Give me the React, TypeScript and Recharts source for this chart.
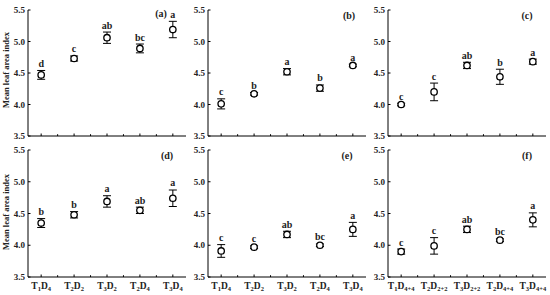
import React from 'react';
import { ScatterChart, Scatter, XAxis, YAxis, ErrorBar, LabelList } from 'recharts';

const FONT = '"Liberation Serif", "Times New Roman", serif';

// treatment subscripts (T_i D_j)
const catsSingle = [['1', '4'], ['2', '2'], ['3', '2'], ['2', '4'], ['3', '4']];
const catsDouble = [['1', '4+4'], ['2', '2+2'], ['3', '2+2'], ['2', '4+4'], ['3', '4+4']];

const meanA = [4.47, 4.73, 5.06, 4.89, 5.19];
const errA = [0.07, 0.04, 0.09, 0.07, 0.13];
const letA = ['d', 'c', 'ab', 'bc', 'a'];

const meanB = [4.01, 4.17, 4.52, 4.26, 4.62];
const errB = [0.08, 0.02, 0.05, 0.05, 0.02];
const letB = ['c', 'b', 'a', 'b', 'a'];

const meanC = [4.0, 4.2, 4.62, 4.44, 4.68];
const errC = [0.02, 0.14, 0.05, 0.12, 0.04];
const letC = ['c', 'c', 'ab', 'b', 'a'];

const meanD = [4.35, 4.48, 4.69, 4.55, 4.74];
const errD = [0.07, 0.05, 0.09, 0.05, 0.13];
const letD = ['b', 'b', 'a', 'ab', 'a'];

const meanE = [3.91, 3.97, 4.17, 4.0, 4.25];
const errE = [0.1, 0.02, 0.05, 0.02, 0.11];
const letE = ['c', 'c', 'ab', 'bc', 'a'];

const meanF = [3.9, 3.99, 4.25, 4.08, 4.4];
const errF = [0.04, 0.13, 0.05, 0.02, 0.11];
const letF = ['c', 'c', 'ab', 'bc', 'a'];

const yTicks = [3.5, 4.0, 4.5, 5.0, 5.5];
const xTicks = [0, 0.5, 1, 1.5, 2, 2.5, 3, 3.5, 4];

const YTick = (props: any) => {
    const { x, y, payload } = props;
    const ax = x + 3; // axis line position (tickSize 0, tickMargin 3)
    return (
        <g>
            <line x1={ax} x2={ax + 2.5} y1={y} y2={y} stroke="#000" strokeWidth={1} />
            <text x={x} y={y} dy="0.35em" textAnchor="end" fontFamily={FONT} fontWeight="bold" fontSize={9} fill="#222">
                {payload.value.toFixed(1)}
            </text>
        </g>
    );
};

const XTick = (props: any) => {
    const { x, y, payload, cats, showLabels } = props;
    const v = payload.value;
    const major = Number.isInteger(v);
    const ay = y - 3;
    const sub = major ? cats[v] : null;
    return (
        <g>
            <line x1={x} x2={x} y1={ay} y2={ay - (major ? 2.5 : 1.8)} stroke="#000" strokeWidth={1} />
            {showLabels && sub && (
                <text x={x} y={y + 9} textAnchor="middle" fontFamily={FONT} fontWeight="bold" fontSize={9.5} fill="#222">
                    T<tspan fontSize={6.5} dy={2}>{sub[0]}</tspan>
                    <tspan dy={-2}>D</tspan>
                    <tspan fontSize={6.5} dy={2}>{sub[1]}</tspan>
                </text>
            )}
        </g>
    );
};

interface PanelProps {
    means: number[];
    errs: number[];
    letters: string[];
    cats: string[][];
    left: number;
    top: number;
    bottomRow: boolean;
}

const Panel: React.FC<PanelProps> = ({ means, errs, letters, cats, left, top, bottomRow }) => {
    const pts = means.map((m, i) => ({ x: i, y: m, err: errs[i] }));
    const tops = means.map((m, i) => ({ x: i, y: m + errs[i], letter: letters[i] }));
    return (
        <div style={{ position: 'absolute', left, top }}>
            <ScatterChart
                width={190}
                height={150}
                margin={{ top: bottomRow ? 5 : 10, right: 4, bottom: 0, left: 0 }}
            >
                <XAxis
                    type="number"
                    dataKey="x"
                    domain={[-0.4, 4.4]}
                    ticks={xTicks}
                    interval={0}
                    height={bottomRow ? 18 : 14}
                    tickSize={0}
                    tickMargin={3}
                    stroke="#000"
                    axisLine={{ stroke: '#000', strokeWidth: 1 }}
                    tick={<XTick cats={cats} showLabels={bottomRow} />}
                />
                <YAxis
                    type="number"
                    dataKey="y"
                    domain={[3.5, 5.5]}
                    ticks={yTicks}
                    interval={0}
                    width={28}
                    tickSize={0}
                    tickMargin={3}
                    axisLine={{ stroke: '#000', strokeWidth: 1 }}
                    tick={<YTick />}
                />
                <Scatter
                    data={pts}
                    isAnimationActive={false}
                    shape={(p: any) => (
                        <circle cx={p.cx} cy={p.cy} r={3.2} fill="#fff" stroke="#000" strokeWidth={1.3} />
                    )}
                >
                    <ErrorBar dataKey="err" direction="y" width={4} stroke="#000" strokeWidth={1} />
                </Scatter>
                <Scatter data={tops} isAnimationActive={false} shape={() => <g />}>
                    <LabelList
                        dataKey="letter"
                        position="top"
                        offset={-1}
                        style={{ fontFamily: FONT, fontWeight: 'bold', fontSize: 10, fill: '#222' }}
                    />
                </Scatter>
            </ScatterChart>
        </div>
    );
};

const tagStyle = { fontFamily: FONT, fontWeight: 'bold' as const, fontSize: 10, fill: '#222' };

export default function App() {
    return (
        <div style={{ position: 'absolute', left: 0, top: 0, width: 550, height: 295, background: '#fff', overflow: 'hidden' }}>
            <Panel means={meanA} errs={errA} letters={letA} cats={catsSingle} left={0} top={0} bottomRow={false} />
            <Panel means={meanB} errs={errB} letters={letB} cats={catsSingle} left={180} top={0} bottomRow={false} />
            <Panel means={meanC} errs={errC} letters={letC} cats={catsDouble} left={360} top={0} bottomRow={false} />
            <Panel means={meanD} errs={errD} letters={letD} cats={catsSingle} left={0} top={145} bottomRow={true} />
            <Panel means={meanE} errs={errE} letters={letE} cats={catsSingle} left={180} top={145} bottomRow={true} />
            <Panel means={meanF} errs={errF} letters={letF} cats={catsDouble} left={360} top={145} bottomRow={true} />
            <svg width={550} height={295} style={{ position: 'absolute', left: 0, top: 0, pointerEvents: 'none' }}>
                <text x={6} y={70} transform="rotate(-90 6 70)" textAnchor="middle" dy="0.35em" style={{ ...tagStyle, fontSize: 8.5 }}>
                    Mean leaf area index
                </text>
                <text x={6} y={212} transform="rotate(-90 6 212)" textAnchor="middle" dy="0.35em" style={{ ...tagStyle, fontSize: 8.5 }}>
                    Mean leaf area index
                </text>
                <text x={161} y={13} textAnchor="middle" dy="0.35em" style={tagStyle}>(a)</text>
                <text x={349} y={15} textAnchor="middle" dy="0.35em" style={tagStyle}>(b)</text>
                <text x={527} y={15} textAnchor="middle" dy="0.35em" style={tagStyle}>(c)</text>
                <text x={167} y={155} textAnchor="middle" dy="0.35em" style={tagStyle}>(d)</text>
                <text x={347} y={155} textAnchor="middle" dy="0.35em" style={tagStyle}>(e)</text>
                <text x={527} y={155} textAnchor="middle" dy="0.35em" style={tagStyle}>(f)</text>
            </svg>
        </div>
    );
}
